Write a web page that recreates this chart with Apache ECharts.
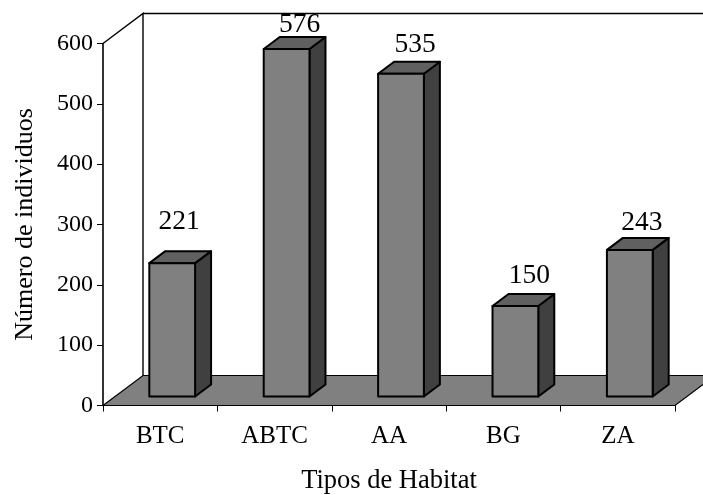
<!DOCTYPE html>
<html><head><meta charset="utf-8">
<style>html,body{margin:0;padding:0;background:#fff}#c{width:703px;height:495px}</style>
<script src="https://cdn.jsdelivr.net/npm/echarts@6/dist/echarts.min.js"></script>
</head><body><div id="c"></div>
<script>
const categories = ['BTC', 'ABTC', 'AA', 'BG', 'ZA'];
const values = [221, 576, 535, 150, 243];
const yTicks = { min: 0, max: 600, interval: 100 };
const labelNudgeX = [-5, 1, 2, 2, 0];
const labelNudgeY = [-12, 4.5, 0, -1.5, 1.5];

const FONT = '"Liberation Serif","Times New Roman",serif';
const DEPTH_X = 40, DEPTH_Y = 30;
const chart = echarts.init(document.getElementById('c'), null, { renderer: 'canvas' });

function renderFrame(params, api) {
  const band = api.size([1, 0])[0];
  const o = api.coord([0, 0]);
  const t = api.coord([0, yTicks.max]);
  const x0 = o[0] - band / 2, x1 = x0 + band * categories.length;
  const y0 = o[1], yt = t[1];
  const line = { stroke: '#000', lineWidth: 1.4, fill: null };
  return { type: 'group', silent: true, children: [
    { type: 'polygon', shape: { points: [[x0, y0], [x0 + DEPTH_X, y0 - DEPTH_Y], [x1 + DEPTH_X, y0 - DEPTH_Y], [x1, y0]] },
      style: { fill: '#808080', stroke: '#000', lineWidth: 1.2 } },
    { type: 'polyline', shape: { points: [[x0, yt], [x0 + DEPTH_X, yt - DEPTH_Y], [x0 + DEPTH_X, y0 - DEPTH_Y]] }, style: line },
    { type: 'line', shape: { x1: x0 + DEPTH_X, y1: yt - DEPTH_Y, x2: x1 + DEPTH_X, y2: yt - DEPTH_Y }, style: line }
  ] };
}

function renderBar(params, api) {
  const i = api.value(0), v = api.value(1);
  const band = api.size([1, 0])[0];
  const c0 = api.coord([i, 0]), c1 = api.coord([i, v]);
  const left = c0[0] - band / 2 + band * 0.4, w = band * 0.4;
  const dx0 = DEPTH_X * 0.3, dy0 = DEPTH_Y * 0.3, dx = DEPTH_X * 0.4, dy = DEPTH_Y * 0.4;
  const xa = left + dx0 - band * 0.1 + 0, xb = xa + w;
  const yb = c0[1] - dy0, yt = c1[1] - dy0;
  const edge = { stroke: '#000', lineWidth: 2, lineJoin: 'round' };
  return { type: 'group', children: [
    { type: 'polygon', shape: { points: [[xb, yb], [xb + dx, yb - dy], [xb + dx, yt - dy], [xb, yt]] }, style: { fill: '#404040', ...edge } },
    { type: 'polygon', shape: { points: [[xa, yt], [xb, yt], [xb + dx, yt - dy], [xa + dx, yt - dy]] }, style: { fill: '#606060', ...edge } },
    { type: 'rect', shape: { x: xa, y: yt, width: w, height: yb - yt }, style: { fill: '#808080', ...edge } },
    { type: 'text', style: { text: String(v), x: (xa + xb) / 2 + 12 + labelNudgeX[i], y: yt - 29 + labelNudgeY[i],
        font: '27.5px ' + FONT, fill: '#000', align: 'center', verticalAlign: 'middle' } }
  ] };
}

chart.setOption({
  animation: false,
  backgroundColor: '#fff',
  grid: { left: 103, right: 28, top: 43.5, bottom: 89.5, outerBoundsMode: 'none' },
  xAxis: {
    type: 'category', data: categories, boundaryGap: true,
    name: 'Tipos de Habitat', nameLocation: 'middle', nameGap: 62,
    nameTextStyle: { fontFamily: FONT, fontSize: 26.5, color: '#000' },
    axisLine: { lineStyle: { color: '#000', width: 1.2 } },
    axisTick: { show: true, alignWithLabel: false, length: 6, lineStyle: { color: '#000' } },
    axisLabel: { fontFamily: FONT, fontSize: 25, color: '#000', margin: 18, interval: 0 },
    splitLine: { show: false }
  },
  yAxis: {
    type: 'value', min: yTicks.min, max: yTicks.max, interval: yTicks.interval,
    name: 'Número de individuos', nameLocation: 'middle', nameGap: 65,
    nameTextStyle: { fontFamily: FONT, fontSize: 26, color: '#000' },
    axisLine: { show: true, lineStyle: { color: '#000', width: 1.6 } },
    axisTick: { show: true, length: 6, lineStyle: { color: '#000' } },
    axisLabel: { fontFamily: FONT, fontSize: 24, color: '#000', margin: 10, padding: [3, 0, 0, 0] },
    splitLine: { show: false }
  },
  series: [
    { type: 'custom', coordinateSystem: 'cartesian2d', clip: false, z: 1, renderItem: renderFrame, data: [[0, 0]], encode: { x: 0, y: 1 }, silent: true },
    { type: 'custom', coordinateSystem: 'cartesian2d', clip: false, z: 2, renderItem: renderBar,
      data: values.map((v, i) => [i, v]), encode: { x: 0, y: 1 } }
  ]
});
</script></body></html>
